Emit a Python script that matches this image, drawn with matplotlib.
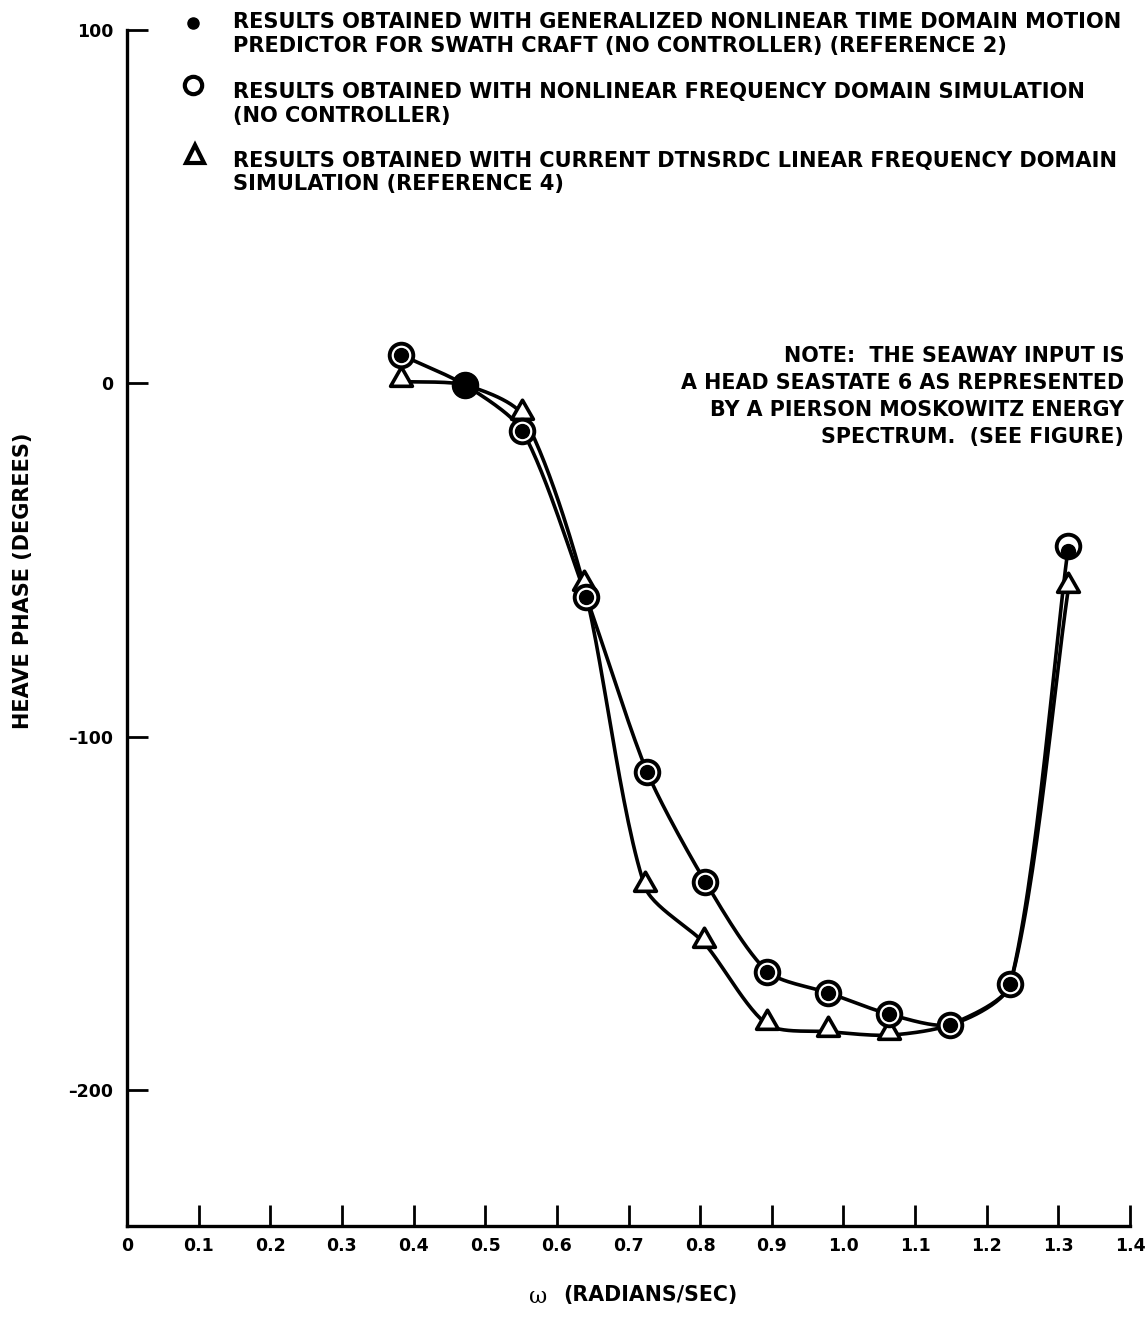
import numpy as np
import matplotlib
matplotlib.use('Agg')
import matplotlib.pyplot as plt
from matplotlib.lines import Line2D
from matplotlib.path import Path

plt.rcParams['font.family'] = ['DejaVu Sans']
plt.rcParams['font.weight'] = 'bold'

# nonlinear frequency domain simulation (circles)
omega = [0.383, 0.472, 0.552, 0.641, 0.726, 0.807, 0.894, 0.979, 1.063, 1.149, 1.233, 1.314]
phase_nl = [8.0, -0.5, -13.5, -60.5, -110.0, -141.0, -166.5, -172.5, -178.5, -181.5, -170.0, -46.0]
# generalized nonlinear time domain predictor (dots)
phase_td = [8.0, -0.5, -13.5, -60.5, -110.0, -141.0, -166.5, -172.5, -178.5, -181.5, -170.0, -47.5]
# current DTNSRDC linear frequency domain simulation (triangles)
omega_lin = [0.383, 0.472, 0.552, 0.638, 0.723, 0.806, 0.894, 0.979, 1.063, 1.149, 1.233, 1.314]
phase_lin = [0.5, -0.5, -9.0, -57.5, -142.5, -158.5, -181.5, -183.5, -184.5, -181.5, -170.0, -58.0]
tri_shown = [0, 2, 3, 4, 5, 6, 7, 8, 11]

legend_lines = [
    ["RESULTS OBTAINED WITH GENERALIZED NONLINEAR TIME DOMAIN MOTION",
     "PREDICTOR FOR SWATH CRAFT (NO CONTROLLER) (REFERENCE 2)"],
    ["RESULTS OBTAINED WITH NONLINEAR FREQUENCY DOMAIN SIMULATION",
     "(NO CONTROLLER)"],
    ["RESULTS OBTAINED WITH CURRENT DTNSRDC LINEAR FREQUENCY DOMAIN",
     "SIMULATION (REFERENCE 4)"],
]
note = ["NOTE:  THE SEAWAY INPUT IS",
        "A HEAD SEASTATE 6 AS REPRESENTED",
        "BY A PIERSON MOSKOWITZ ENERGY",
        "SPECTRUM.  (SEE FIGURE)"]


def smooth(x, y, k=0.75, n=30, kx=716.0, ky=3.59):
    # hermite pieces through the points, tangent along the neighbour chord
    P = np.column_stack([np.asarray(x, float) * kx, np.asarray(y, float) * ky])
    seg = np.diff(P, axis=0)
    L = np.linalg.norm(seg, axis=1)
    D = np.zeros_like(P)
    D[0], D[-1] = seg[0] / L[0], seg[-1] / L[-1]
    for i in range(1, len(P) - 1):
        b = P[i + 1] - P[i - 1]
        D[i] = b / np.linalg.norm(b)
    t = np.linspace(0, 1, n)[:, None]
    h00 = 2 * t**3 - 3 * t**2 + 1
    h10 = t**3 - 2 * t**2 + t
    h01 = -2 * t**3 + 3 * t**2
    h11 = t**3 - t**2
    out = []
    for i in range(len(P) - 1):
        m0 = D[i] * L[i] * k
        m1 = D[i + 1] * L[i] * k
        out.append(h00 * P[i] + h10 * m0 + h01 * P[i + 1] + h11 * m1)
    C = np.vstack(out)
    return C[:, 0] / kx, C[:, 1] / ky


# triangle sitting on its point, like the hand drawn symbols
tri = Path([(-1, -0.35), (1, -0.35), (0, 1.4), (-1, -0.35)],
           [Path.MOVETO, Path.LINETO, Path.LINETO, Path.CLOSEPOLY])

W, H = 1148, 1321
fig = plt.figure(figsize=(W / 100, H / 100), dpi=100)
ax = fig.add_axes([127 / W, 95 / H, (1130 - 127) / W, (1226 - 30) / H])

lw = 2.6
sx, sy = smooth(omega, phase_nl)
ax.plot(sx, sy, color='black', lw=lw, zorder=2)
sx, sy = smooth(omega_lin, phase_lin)
ax.plot(sx, sy, color='black', lw=lw, zorder=2)

ax.plot(omega_lin, phase_lin, ls='none', marker=tri, ms=22, mfc='white', mec='black',
        mew=2.6, markevery=tri_shown, zorder=3)
ax.plot(omega, phase_nl, ls='none', marker='o', ms=17, mfc='white', mec='black', mew=2.8, zorder=4)
ax.plot(omega, phase_td, ls='none', marker='o', ms=10, color='black', zorder=5)
ax.plot(omega[1], phase_td[1], ls='none', marker='o', ms=18, color='black', zorder=6)

ax.set_xlim(0, 1.4)
ax.set_ylim(-238.5, 100)
ax.set_xticks(np.arange(0, 1.41, 0.1))
ax.set_xticklabels(['0'] + ['%.1f' % v for v in np.arange(0.1, 1.41, 0.1)])
ax.set_yticks([100, 0, -100, -200])
ax.set_yticklabels(['100', '0', '\u2013100', '\u2013200'])
for s in ['top', 'right']:
    ax.spines[s].set_visible(False)
for s in ['left', 'bottom']:
    ax.spines[s].set_linewidth(2.4)
ax.tick_params(direction='in', length=15, width=2.0, labelsize=12.5, pad=8)
ax.tick_params(axis='y', pad=10)

fig.text(23 / W, 1 - 581 / H, "HEAVE PHASE (DEGREES)", rotation=90, ha='center', va='center',
         fontsize=15, fontweight='bold')
fig.text(538 / W, 1 - 1297 / H, "\u03c9", ha='center', va='center', fontsize=16,
         fontweight='normal', family='DejaVu Serif')
fig.text(563 / W, 1 - 1295 / H, "(RADIANS/SEC)", ha='left', va='center', fontsize=14.8,
         fontweight='bold')

# legend block, one baseline per line
baselines = [(28, 52), (98, 122), (167, 190)]
for (b1, b2), (l1, l2) in zip(baselines, legend_lines):
    fig.text(233 / W, 1 - b1 / H, l1, ha='left', va='baseline', fontsize=15.1, fontweight='bold')
    fig.text(233 / W, 1 - b2 / H, l2, ha='left', va='baseline', fontsize=15.1, fontweight='bold')
fig.add_artist(Line2D([193 / W], [1 - 23 / H], marker='o', ms=8, color='black', ls='none'))
fig.add_artist(Line2D([193 / W], [1 - 85 / H], marker='o', ms=12.5, mfc='white', mec='black',
                      mew=3.0, ls='none'))
fig.add_artist(Line2D([195 / W], [1 - 154 / H], marker='^', ms=12.5, mfc='white', mec='black',
                      mew=3.0, ls='none'))

for b, line in zip([362, 389, 416, 443], note):
    fig.text(1124 / W, 1 - b / H, line, ha='right', va='baseline', fontsize=14.9,
             fontweight='bold')

fig.savefig('out.png', dpi=100)
